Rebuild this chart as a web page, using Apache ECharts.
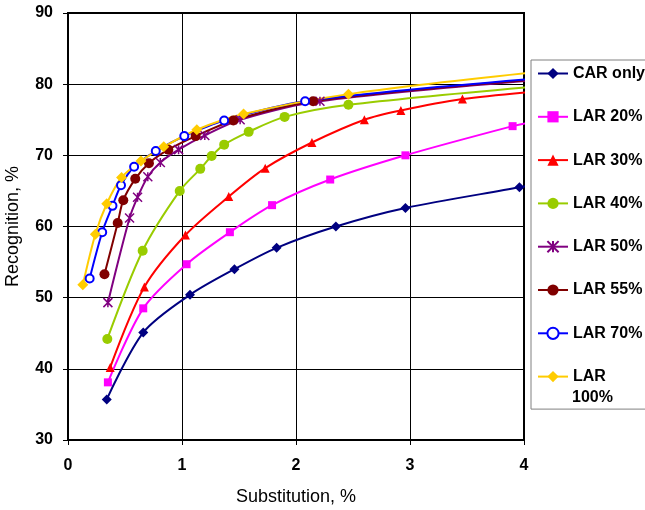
<!DOCTYPE html>
<html>
<head>
<meta charset="utf-8">
<script src="https://cdn.jsdelivr.net/npm/echarts@6/dist/echarts.min.js"></script>
<style>
  html, body { margin: 0; padding: 0; background: #fff; }
  #main { width: 645px; height: 510px; }
</style>
</head>
<body>
<div id="main"></div>
<script>
// data (x = substitution %, y = recognition %)
let carX = [0.34, 0.66, 1.07, 1.46, 1.83, 2.35, 2.96, 3.96, 4.05];
let carY = [35.7, 45.1, 50.4, 54.0, 57.0, 60.0, 62.6, 65.5, 65.8];

let lar20X = [0.35, 0.66, 1.04, 1.42, 1.79, 2.30, 2.96, 3.90, 4.05];
let lar20Y = [38.1, 48.5, 54.7, 59.2, 63.0, 66.6, 70.0, 74.1, 74.6];

let lar30X = [0.37, 0.67, 1.03, 1.41, 1.73, 2.14, 2.60, 2.92, 3.46, 4.05];
let lar30Y = [40.2, 51.5, 58.8, 64.2, 68.2, 71.8, 75.0, 76.3, 77.9, 78.9];

let lar40X = [0.345, 0.655, 0.98, 1.16, 1.26, 1.37, 1.585, 1.90, 2.46, 4.05];
let lar40Y = [44.2, 56.6, 65.0, 68.1, 69.9, 71.5, 73.3, 75.4, 77.1, 79.6];

let lar50X = [0.35, 0.54, 0.61, 0.70, 0.81, 0.97, 1.20, 1.51, 2.21, 4.05];
let lar50Y = [49.3, 61.2, 64.1, 67.0, 69.0, 70.8, 72.8, 75.0, 77.6, 80.5];

let lar55X = [0.32, 0.436, 0.485, 0.59, 0.71, 0.88, 1.12, 1.45, 2.15, 4.05];
let lar55Y = [53.3, 60.5, 63.7, 66.7, 68.9, 70.8, 72.7, 74.9, 77.6, 80.6];

let lar70X = [0.19, 0.30, 0.39, 0.465, 0.58, 0.77, 1.02, 1.37, 2.08, 4.05];
let lar70Y = [52.7, 59.2, 62.9, 65.8, 68.4, 70.6, 72.7, 74.9, 77.6, 80.7];

let lar100X = [0.13, 0.24, 0.34, 0.47, 0.64, 0.84, 1.13, 1.54, 2.46, 4.05];
let lar100Y = [51.8, 58.9, 63.2, 66.9, 69.2, 71.2, 73.6, 75.8, 78.6, 81.6];

let seriesNames = ['CAR only', 'LAR 20%', 'LAR 30%', 'LAR 40%', 'LAR 50%', 'LAR 55%', 'LAR 70%', 'LAR 100%'];
let xTicks = [0, 1, 2, 3, 4];
let yTicks = [30, 40, 50, 60, 70, 80, 90];

const FONT = 'Liberation Sans, Arial, sans-serif';
const ASTERISK = 'path://M0,0L10,10M10,0L0,10M5,0L5,10';

let styles = [
    { color: '#000080', symbol: 'diamond', size: 10 },
    { color: '#ff00ff', symbol: 'rect', size: 8 },
    { color: '#ff0000', symbol: 'triangle', size: 9 },
    { color: '#99cc00', symbol: 'circle', size: 10 },
    { color: '#800080', symbol: ASTERISK, size: 9, stroke: true },
    { color: '#800000', symbol: 'circle', size: 10 },
    { color: '#0000ff', symbol: 'emptyCircle', size: 8 },
    { color: '#ffcc00', symbol: 'diamond', size: 11 }
];

let allX = [carX, lar20X, lar30X, lar40X, lar50X, lar55X, lar70X, lar100X];
let allY = [carY, lar20Y, lar30Y, lar40Y, lar50Y, lar55Y, lar70Y, lar100Y];

function buildSeries(i) {
    let st = styles[i];
    let data = allX[i].map((x, k) => {
        let item = { value: [x, allY[i][k]] };
        if (x > xTicks[xTicks.length - 1]) item.symbol = 'none';
        return item;
    });
    let itemStyle = { color: st.color };
    if (st.stroke) {
        itemStyle.borderColor = st.color;
        itemStyle.borderWidth = 1.5;
    }
    return {
        name: seriesNames[i],
        type: 'line',
        smooth: 0.3,
        data: data,
        symbol: st.symbol,
        symbolSize: st.size,
        showAllSymbol: true,
        lineStyle: { color: st.color, width: 2 },
        itemStyle: itemStyle,
        emphasis: { disabled: true },
        clip: true
    };
}

var dom = document.getElementById('main');
var myChart = echarts.init(dom);

let option = {
    animation: false,
    backgroundColor: '#fff',
    grid: {
        left: 68,
        right: 121,
        top: 13,
        bottom: 70,
        outerBoundsMode: 'none',
        show: true,
        borderColor: '#000',
        borderWidth: 2
    },
    legend: {
        orient: 'vertical',
        left: 531,
        top: 60,
        itemWidth: 30,
        itemHeight: 14,
        itemGap: 24.3,
        padding: [4, 30, 23, 6],
        borderColor: '#808080',
        borderWidth: 1,
        data: seriesNames,
        // the last name wraps in the original; its second line is added below
        formatter: n => n === 'LAR 100%' ? 'LAR' : n,
        textStyle: {
            fontFamily: FONT,
            fontSize: 16,
            fontWeight: 'bold',
            color: '#000',
            lineHeight: 19
        }
    },
    graphic: [{
        type: 'text',
        left: 572,
        top: 390,
        style: {
            text: '100%',
            fontFamily: FONT,
            fontSize: 16,
            fontWeight: 'bold',
            fill: '#000'
        }
    }],
    xAxis: {
        type: 'value',
        min: xTicks[0],
        max: xTicks[xTicks.length - 1],
        interval: 1,
        name: 'Substitution, %',
        nameLocation: 'middle',
        nameGap: 48,
        nameTextStyle: { fontFamily: FONT, fontSize: 18, color: '#000' },
        axisLine: { show: true, onZero: false, lineStyle: { color: '#000', width: 2 } },
        axisTick: { show: true, length: 5, lineStyle: { color: '#000' } },
        axisLabel: { fontFamily: FONT, fontSize: 16, fontWeight: 'bold', color: '#000', margin: 18 },
        splitLine: { show: true, lineStyle: { color: '#000', width: 1 } }
    },
    yAxis: {
        type: 'value',
        min: yTicks[0],
        max: yTicks[yTicks.length - 1],
        interval: 10,
        name: 'Recognition, %',
        nameLocation: 'middle',
        nameGap: 46,
        nameTextStyle: { fontFamily: FONT, fontSize: 18, color: '#000' },
        axisLine: { show: true, lineStyle: { color: '#000', width: 2 } },
        axisTick: { show: true, length: 5, lineStyle: { color: '#000' } },
        axisLabel: { fontFamily: FONT, fontSize: 16, fontWeight: 'bold', color: '#000', margin: 15 },
        splitLine: { show: true, lineStyle: { color: '#000', width: 1 } }
    },
    series: seriesNames.map((n, i) => buildSeries(i))
};

if (option && typeof option === "object") {
    myChart.setOption(option, true);
}
</script>
</body>
</html>
